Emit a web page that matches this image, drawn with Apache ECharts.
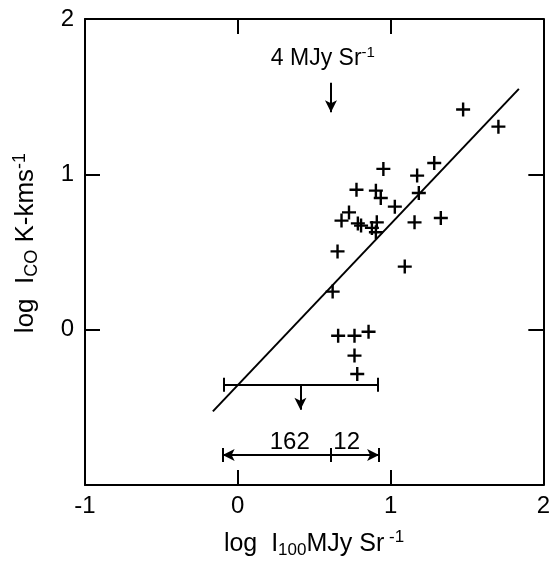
<!DOCTYPE html>
<html>
<head>
<meta charset="utf-8">
<script src="https://cdn.jsdelivr.net/npm/echarts@6/dist/echarts.min.js"></script>
<style>html,body{margin:0;padding:0;background:#fff}#c{width:553px;height:561px}</style>
</head>
<body>
<div id="c"></div>
<script>
// ---- data ----
const pointX = [0.953,1.286,1.174,0.777,0.904,0.936,1.185,1.028,0.728,0.679,0.786,0.807,0.910,0.878,0.904,1.157,1.329,0.653,1.093,0.621,0.657,0.764,0.856,0.764,0.782,1.475,1.706];
const pointY = [1.035,1.073,0.992,0.901,0.895,0.848,0.880,0.792,0.755,0.702,0.684,0.670,0.691,0.655,0.627,0.691,0.719,0.504,0.406,0.245,-0.039,-0.039,-0.013,-0.167,-0.285,1.417,1.307];
const fitX = [-0.163, 1.840];
const fitY = [-0.526, 1.550];
const limitX = [-0.092, 0.917];
const limitY = -0.354;
const limitArrowX = 0.41;
const limitArrowEndY = -0.515;
const rangeX = [-0.099, 0.61, 0.925];
const rangeY = -0.807;
const rangeLabels = ['162', '12'];
const rangeLabelX = [0.34, 0.713];
const rangeLabelY = -0.728;
const noteX = 0.61;
const noteY = [1.59, 1.40];
const noteLabelPos = [0.557, 1.745];
const xTicks = [-1, 0, 1, 2];
const yTicks = [-1, 0, 1, 2];

// ---- chart ----
const FONT = 'Liberation Sans, Arial, sans-serif';
const chart = echarts.init(document.getElementById('c'));
const cap = 0.045;
const lineStyle = {color: '#000', width: 2, type: 'solid', opacity: 1};

function seg(a, b, endSym) {
  return [
    {coord: a, symbol: 'none'},
    {coord: b, symbol: endSym || 'none', symbolSize: [9, 12]}
  ];
}

const markData = [
  seg([limitX[0], limitY], [limitX[1], limitY]),
  seg([limitX[0], limitY - cap], [limitX[0], limitY + cap]),
  seg([limitX[1], limitY - cap], [limitX[1], limitY + cap]),
  seg([limitArrowX, limitY], [limitArrowX, limitArrowEndY], 'arrow'),
  seg([rangeX[1], rangeY], [rangeX[0], rangeY], 'arrow'),
  seg([rangeX[1], rangeY], [rangeX[2], rangeY], 'arrow'),
  seg([rangeX[0], rangeY - cap], [rangeX[0], rangeY + cap]),
  seg([rangeX[1], rangeY - cap], [rangeX[1], rangeY + cap]),
  seg([rangeX[2], rangeY - cap], [rangeX[2], rangeY + cap]),
  seg([noteX, noteY[0]], [noteX, noteY[1]], 'arrow')
];

const axisCommon = {
  type: 'value', min: -1, max: 2, interval: 1,
  splitLine: {show: false},
  axisLine: {show: true, onZero: false, lineStyle: {color: '#000', width: 2}},
  axisTick: {show: true, inside: true, length: 15, lineStyle: {color: '#000', width: 2}}
};

const option = {
  backgroundColor: '#fff',
  animation: false,
  grid: {left: 85, right: 2, top: 19, bottom: 76},
  xAxis: [
    Object.assign({}, axisCommon, {
      position: 'bottom',
      axisLabel: {show: true, margin: 9, color: '#000', fontSize: 24, fontFamily: FONT,
        formatter: v => xTicks.includes(v) ? String(v) : ''}
    }),
    Object.assign({}, axisCommon, {position: 'top', axisLabel: {show: false}})
  ],
  yAxis: [
    Object.assign({}, axisCommon, {
      position: 'left',
      axisLabel: {show: true, margin: 11, color: '#000', fontSize: 24, fontFamily: FONT,
        formatter: v => (yTicks.includes(v) && v !== -1) ? String(v) : ''}
    }),
    Object.assign({}, axisCommon, {position: 'right', axisLabel: {show: false}})
  ],
  series: [
    {
      type: 'scatter',
      data: pointX.map((x, i) => [x, pointY[i]]),
      symbol: 'path://M-1.2,-7H1.2V-1.2H7V1.2H1.2V7H-1.2V1.2H-7V-1.2H-1.2Z',
      symbolSize: 14,
      itemStyle: {color: '#000', opacity: 1},
      z: 5
    },
    {
      type: 'line',
      data: fitX.map((x, i) => [x, fitY[i]]),
      symbol: 'none',
      lineStyle: {color: '#000', width: 2},
      markLine: {
        silent: true,
        symbol: ['none', 'none'],
        label: {show: false},
        lineStyle: lineStyle,
        itemStyle: {color: '#000', opacity: 1},
        data: markData
      }
    },
    {
      type: 'scatter',
      symbolSize: 0,
      itemStyle: {opacity: 1},
      data: rangeLabels.map((t, i) => ({value: [rangeLabelX[i], rangeLabelY], name: t})),
      label: {show: true, position: 'inside', formatter: p => p.name,
        color: '#000', fontSize: 24, fontFamily: FONT}
    },
    {
      type: 'scatter',
      symbolSize: 0,
      itemStyle: {opacity: 1},
      data: [{value: noteLabelPos}],
      label: {show: true, position: 'inside',
        formatter: '{a|4 MJy Sr}{p|-1}',
        rich: {
          a: {color: '#000', fontSize: 23, fontFamily: FONT, lineHeight: 26},
          p: {color: '#000', fontSize: 15, fontFamily: FONT, lineHeight: 15, verticalAlign: 'top'}
        }}
    }
  ],
  graphic: [
    {
      type: 'text', z: 10,
      x: 314, y: 544,
      style: {
        text: '{a|log  I}{s|100}{a|MJy Sr}{p| -1}',
        align: 'center', verticalAlign: 'middle',
        rich: {
          a: {fill: '#000', fontSize: 25, fontFamily: FONT, lineHeight: 30, verticalAlign: 'middle'},
          s: {fill: '#000', fontSize: 17, fontFamily: FONT, lineHeight: 17, verticalAlign: 'bottom'},
          p: {fill: '#000', fontSize: 17, fontFamily: FONT, lineHeight: 17, verticalAlign: 'top'}
        }
      }
    },
    {
      type: 'text', z: 10,
      x: 26, y: 243, rotation: Math.PI / 2,
      style: {
        text: '{a|log  I}{s|CO}{a| K-kms}{p|-1}',
        align: 'center', verticalAlign: 'middle',
        rich: {
          a: {fill: '#000', fontSize: 26, fontFamily: FONT, lineHeight: 30, verticalAlign: 'middle'},
          s: {fill: '#000', fontSize: 18, fontFamily: FONT, lineHeight: 18, verticalAlign: 'bottom'},
          p: {fill: '#000', fontSize: 18, fontFamily: FONT, lineHeight: 18, verticalAlign: 'top'}
        }
      }
    }
  ]
};
chart.setOption(option);
</script>
</body>
</html>
